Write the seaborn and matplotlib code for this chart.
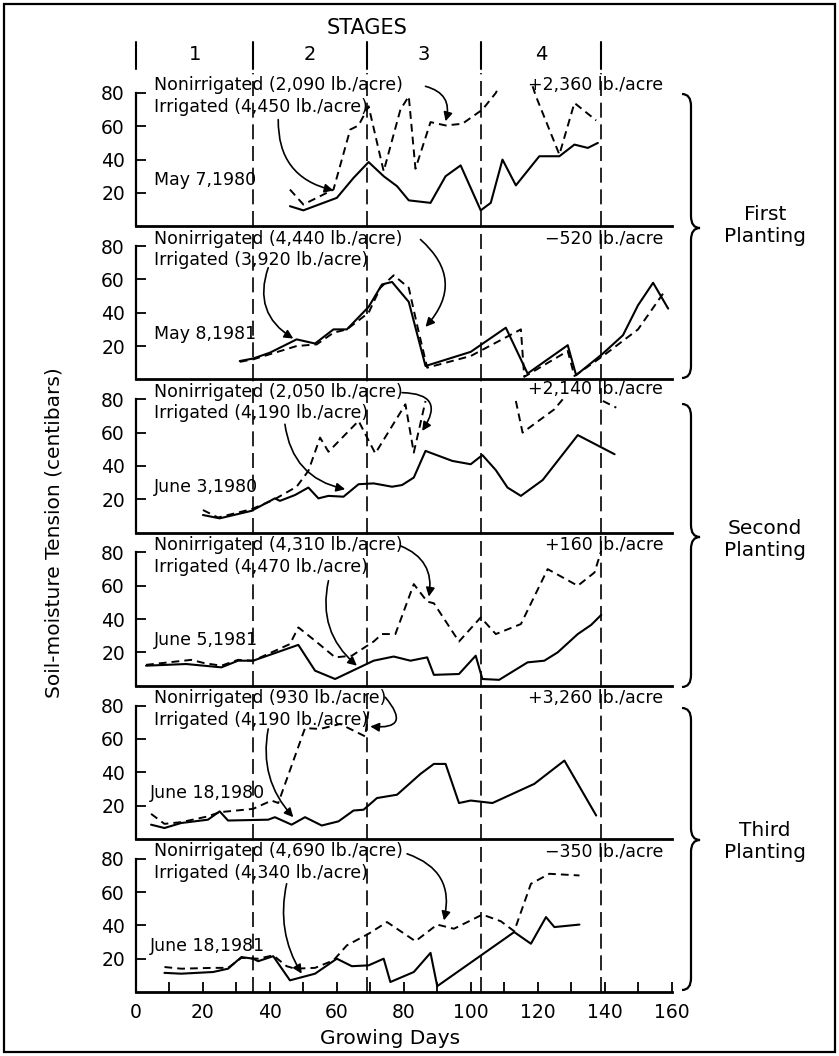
"""
Soil-moisture tension under irrigated vs nonirrigated soybean, three plantings, 1980-81.
"""

import matplotlib
matplotlib.use("Agg")
import matplotlib.pyplot as plt
from matplotlib.path import Path
from matplotlib.patches import PathPatch, Rectangle
from matplotlib.transforms import blended_transform_factory
import pandas as pd
import seaborn as sns

sns.set_theme(style="white")
plt.rcParams['font.family'] = ['DejaVu Sans']
plt.rcParams['text.color'] = 'black'
plt.rcParams['axes.labelcolor'] = 'black'

# ---- data, None = break in the line ----
p1_irr_days = [46, 50, 60, 65, 69.5, 74, 78, 81.5, 88, 92.5, 97, 103, 106, 109.5, 113.5, 120.5, 126.5, 131, 135, 138]
p1_irr_vals = [12, 9.5, 17, 29, 38.5, 30, 24, 15.5, 14, 30, 36.5, 9.5, 14, 40, 24.5, 42, 42, 49, 47, 50]
p1_non_days = [46, 50, 59, 64, 66.5, 69.5, 74, 79, 81.5, 83.5, 88, 92.5, 97.5, 103.5, 107.5, 108.5, None, 118.5, 119.5, 126.5, 131, 137.5]
p1_non_vals = [22, 13, 22, 58, 60.5, 72, 33, 70, 78, 34.5, 62.5, 60.5, 61.5, 70, 80, 84, None, 84, 78, 43, 74, 63.5]

p2_irr_days = [31, 35, 40, 48, 53.5, 59, 63, 69.5, 73.5, 76.5, 81.5, 86.5, 100, 110.5, 117, 129, 131.5, 139.5, 145.5, 150, 154.5, 159]
p2_irr_vals = [11, 12.5, 16, 24, 21.5, 30, 30, 43.5, 57, 58.5, 46.5, 8, 16.5, 31, 3.5, 20.5, 2.5, 15.5, 26.5, 44.5, 58, 42.5]
p2_non_days = [31, 35, 48, 54, 59, 63, 69.5, 73, 77, 81.5, 84, 87, 100, 115, 116, 129, 131, 139.5, 150, 158]
p2_non_vals = [10.5, 12, 20, 21, 28, 30, 40, 55, 62.5, 55, 32.5, 7, 14, 30, 1.5, 17, 2, 14, 30, 53]

p3_irr_days = [20, 25, 34.5, 41.5, 43, 47.5, 51.5, 54.5, 57.5, 62, 66.5, 71, 76.5, 79.5, 83, 86.5, 94.5, 100, 103.5, 107.5, 111, 115, 121.5, 132, 143]
p3_irr_vals = [10.5, 8.5, 13, 20.5, 19, 22.5, 27, 20.5, 22, 21.5, 29, 29.5, 27.5, 28.5, 33, 49, 43, 41, 46.5, 37.5, 27, 22, 31.5, 58.5, 47]
p3_non_days = [20, 24.5, 34.5, 41, 48, 51.5, 55, 57.5, 66.5, 71.5, 80.5, 83, 86.5, None, 113.5, 115.5, 125, 127.5, None, 139.5, 143.5]
p3_non_vals = [13.5, 9, 14, 19.5, 27.5, 37, 57, 48.5, 67, 47.5, 77, 48, 79, None, 79, 60, 74, 80, None, 79, 75]

p4_irr_days = [3, 15, 25.5, 30.5, 35, 48.5, 53.5, 59.5, 71, 77, 82, 87, 89, 96.5, 101.5, 103.5, 108.5, 117, 122, 126, 132, 136, 139]
p4_irr_vals = [12, 13, 11, 15, 15, 24.5, 9, 4, 15, 17.5, 15, 17, 6.5, 7, 18, 4, 3.5, 14, 15, 20, 31, 36.5, 42.5]
p4_non_days = [3, 16.5, 20.5, 25.5, 30.5, 35, 46, 48.5, 53.5, 59.5, 64.5, 71, 73.5, 77.5, 83, 87, 89, 96.5, 103, 107.5, 115, 123, 132, 137, 139]
p4_non_vals = [12.5, 15.5, 13.5, 12, 15.5, 15, 25, 35, 27, 17, 18, 26.5, 31, 31, 61, 50.5, 49.5, 26.5, 41, 31, 37, 70, 60, 68, 81]

p5_irr_days = [4.5, 8.5, 13.5, 21.5, 25, 27.5, 39.5, 41.5, 46.5, 50.5, 55.5, 60.5, 65, 68, 72, 78, 85, 89, 92.5, 96.5, 100, 106.5, 119, 128, 137.5]
p5_irr_vals = [8.5, 6.5, 9.5, 11.5, 16.5, 11, 11.5, 13, 8.5, 13, 8, 10.5, 17, 17.5, 24.5, 26.5, 39, 45, 45, 21.5, 23, 21.5, 33, 47, 14]
p5_non_days = [4.5, 8.5, 13.5, 21.5, 25, 35, 40.5, 42.5, 50.5, 55, 61, 68.5, 69.5]
p5_non_vals = [15, 9, 10, 13.5, 16, 18, 23, 21.5, 66.5, 66, 69, 61.5, 78]

p6_irr_days = [8.5, 13.5, 23, 27.5, 31.5, 35, 36.5, 41, 46, 53.5, 60, 64.5, 69.5, 74, 76, 83, 88, 90, 113, 118, 122.5, 125, 132.5]
p6_irr_vals = [11.5, 11, 12, 14, 21, 20, 18.5, 21.5, 7, 11, 20, 15.5, 16, 20, 6, 12, 23.5, 3.5, 36, 29, 45, 39, 40.5]
p6_non_days = [8.5, 13.5, 23, 27.5, 31.5, 36.5, 41, 45, 47.5, 53.5, 59, 63, 69.5, 75, 83.5, 90, 95, 103.5, 109, 113, 118, 123.5, 132.5]
p6_non_vals = [15, 14, 14.5, 14.5, 20.5, 20, 22, 15.5, 14, 14.5, 19, 28, 35, 42, 30.5, 40.5, 38, 46.5, 42.5, 36.5, 65, 71, 70]

dates = ["May 7,1980", "May 8,1981", "June 3,1980", "June 5,1981", "June 18,1980", "June 18,1981"]
non_labels = ["Nonirrigated (2,090 lb./acre)", "Nonirrigated (4,440 lb./acre)", "Nonirrigated (2,050 lb./acre)",
              "Nonirrigated (4,310 lb./acre)", "Nonirrigated (930 lb./acre)", "Nonirrigated (4,690 lb./acre)"]
irr_labels = ["Irrigated (4,450 lb./acre)", "Irrigated (3,920 lb./acre)", "Irrigated (4,190 lb./acre)",
              "Irrigated (4,470 lb./acre)", "Irrigated (4,190 lb./acre)", "Irrigated (4,340 lb./acre)"]
differences = ["+2,360 lb./acre", "\u2212520 lb./acre", "+2,140 lb./acre",
               "+160 lb./acre", "+3,260 lb./acre", "\u2212350 lb./acre"]
stage_bounds = [0, 35, 69, 103, 139]
stage_names = ["1", "2", "3", "4"]
plantings = ["First\nPlanting", "Second\nPlanting", "Third\nPlanting"]

# arrows: (from day, from value, to day, to value, curvature)
irr_arrows = [(42.5, 64, 59, 21.5, 0.4), (39.5, 67, 47, 24.5, 0.4), (44.5, 65, 62.5, 26, 0.35),
              (57.5, 63, 66, 12, 0.3), (39.5, 66, 47, 13, 0.25), (45, 65, 49.5, 11, 0.2)]
non_arrows = [(86.5, 84, 92.5, 63, -0.5), (85, 84, 86.5, 31.5, -0.5), (79.5, 84, 85.5, 61, -0.9),
              (79, 84, 87.5, 53.5, -0.4), (74.5, 85, 70, 67.5, -1.2), (81, 83, 92, 43, -0.45)]

series = [
    (p1_irr_days, p1_irr_vals, p1_non_days, p1_non_vals),
    (p2_irr_days, p2_irr_vals, p2_non_days, p2_non_vals),
    (p3_irr_days, p3_irr_vals, p3_non_days, p3_non_vals),
    (p4_irr_days, p4_irr_vals, p4_non_days, p4_non_vals),
    (p5_irr_days, p5_irr_vals, p5_non_days, p5_non_vals),
    (p6_irr_days, p6_irr_vals, p6_non_days, p6_non_vals),
]


def to_frame(days, vals):
    """Split a series at None into numbered segments."""
    rows, seg = [], 0
    for d, v in zip(days, vals):
        if d is None:
            seg += 1
            continue
        rows.append({'day': d, 'value': v, 'seg': seg})
    return pd.DataFrame(rows)


def brace(fig, x0, y_top, y_mid, y_bot, W, H, w=9, tip=9, r=12):
    """Draw a right curly brace, coordinates given in pixels from the top left."""
    x1, x2 = x0 + w, x0 + w + tip
    pts = [(x0, y_top), (x1, y_top), (x1, y_top + r),
           (x1, y_mid - r), (x1, y_mid), (x2, y_mid),
           (x1, y_mid), (x1, y_mid + r),
           (x1, y_bot - r), (x1, y_bot), (x0, y_bot)]
    codes = [Path.MOVETO, Path.CURVE3, Path.CURVE3, Path.LINETO, Path.CURVE3, Path.CURVE3,
             Path.CURVE3, Path.CURVE3, Path.LINETO, Path.CURVE3, Path.CURVE3]
    verts = [(x / W, 1 - y / H) for x, y in pts]
    fig.patches.append(PathPatch(Path(verts, codes), transform=fig.transFigure,
                                 fill=False, lw=1.6, color='black'))


def main():
    W, H = 839, 1056
    fig = plt.figure(figsize=(W / 100, H / 100), dpi=100)
    gs = fig.add_gridspec(6, 1, left=136 / W, right=671.5 / W, top=1 - 73 / H,
                          bottom=1 - 992 / H, hspace=0)
    axes = [fig.add_subplot(gs[i]) for i in range(6)]

    for i, ax in enumerate(axes):
        irr_d, irr_v, non_d, non_v = series[i]
        irr = to_frame(irr_d, irr_v)
        non = to_frame(non_d, non_v)
        sns.lineplot(data=irr, x='day', y='value', units='seg', estimator=None, sort=False,
                     color='black', lw=1.5, ax=ax)
        sns.lineplot(data=non, x='day', y='value', units='seg', estimator=None, sort=False,
                     color='black', lw=1.4, linestyle=(0, (4, 2.6)), ax=ax)

        for d in stage_bounds[1:]:
            ax.axvline(d, color='black', lw=1.2, linestyle=(0, (9, 4)))

        ax.set_xlim(0, 160)
        ax.set_ylim(0, 92)
        ax.set_xlabel('')
        ax.set_ylabel('')
        for s in ['top', 'right']:
            ax.spines[s].set_visible(False)
        ax.spines['left'].set_bounds(0, 80)
        ax.spines['left'].set_linewidth(1.6)
        ax.spines['bottom'].set_linewidth(2.0)
        ax.spines['left'].set_color('black')
        ax.spines['bottom'].set_color('black')
        ax.set_yticks([20, 40, 60, 80])
        ax.tick_params(axis='y', direction='in', length=7, width=1.3, pad=8,
                       labelsize=13.5, colors='black', left=True)
        ax.set_facecolor('none')

        tfs = 12.5
        ax.text(5.3, 84.5, non_labels[i], fontsize=tfs, ha='left', va='center')
        ax.text(5.3, 71.5, irr_labels[i], fontsize=tfs, ha='left', va='center')
        ax.text(5.3 if i < 4 else 4.0, 27.5, dates[i], fontsize=tfs, ha='left', va='center')
        ax.text(157.5, 86 if i == 2 else 84.5, differences[i], fontsize=tfs, ha='right', va='center')

        for (x0, y0, x1, y1, rad) in (irr_arrows[i], non_arrows[i]):
            ax.annotate('', xy=(x1, y1), xytext=(x0, y0),
                        arrowprops=dict(arrowstyle='-|>', color='black', lw=1.2,
                                        connectionstyle=f'arc3,rad={rad}',
                                        mutation_scale=13, shrinkA=0, shrinkB=0))

        if i < 5:
            ax.set_xticks([])
        else:
            ax.set_xticks(range(0, 161, 20))
            ax.set_xticks(range(0, 161, 10), minor=True)
            ax.tick_params(axis='x', which='both', direction='in', length=7, width=1.3,
                           pad=8, labelsize=13.5, colors='black', bottom=True)

    # stage markers above the first panel
    ax0 = axes[0]
    trans = blended_transform_factory(ax0.transData, ax0.transAxes)
    for d in stage_bounds:
        ax0.plot([d, d], [1.026, 1.203], transform=trans, clip_on=False, color='black', lw=1.5)
    for k, name in enumerate(stage_names):
        mid = (stage_bounds[k] + stage_bounds[k + 1]) / 2
        ax0.text(mid, 1.124, name, transform=trans, ha='center', va='center', fontsize=14)
    ax0.text(69, 1.294, 'STAGES', transform=trans, ha='center', va='center', fontsize=15)

    # braces and planting labels
    for (top, mid, bot), label, ymid in zip([(94, 228, 378), (404, 537, 687), (708, 840, 990)],
                                            plantings, [226, 539, 842]):
        brace(fig, 682, top, mid, bot, W, H)
        fig.text(765 / W, 1 - ymid / H, label, ha='center', va='center', fontsize=14.5,
                 linespacing=1.2)

    fig.text(53.5 / W, 1 - 533 / H, 'Soil-moisture Tension (centibars)', rotation=90,
             ha='center', va='center', fontsize=14.5)
    fig.text(390 / W, 1 - 1039 / H, 'Growing Days', ha='center', va='center', fontsize=14.5)

    fig.patches.append(Rectangle((4 / W, 4 / H), 1 - 8 / W, 1 - 8 / H, transform=fig.transFigure,
                                 fill=False, lw=1.6, color='black'))

    fig.savefig('out.png', dpi=100)
    plt.close(fig)


if __name__ == "__main__":
    main()
